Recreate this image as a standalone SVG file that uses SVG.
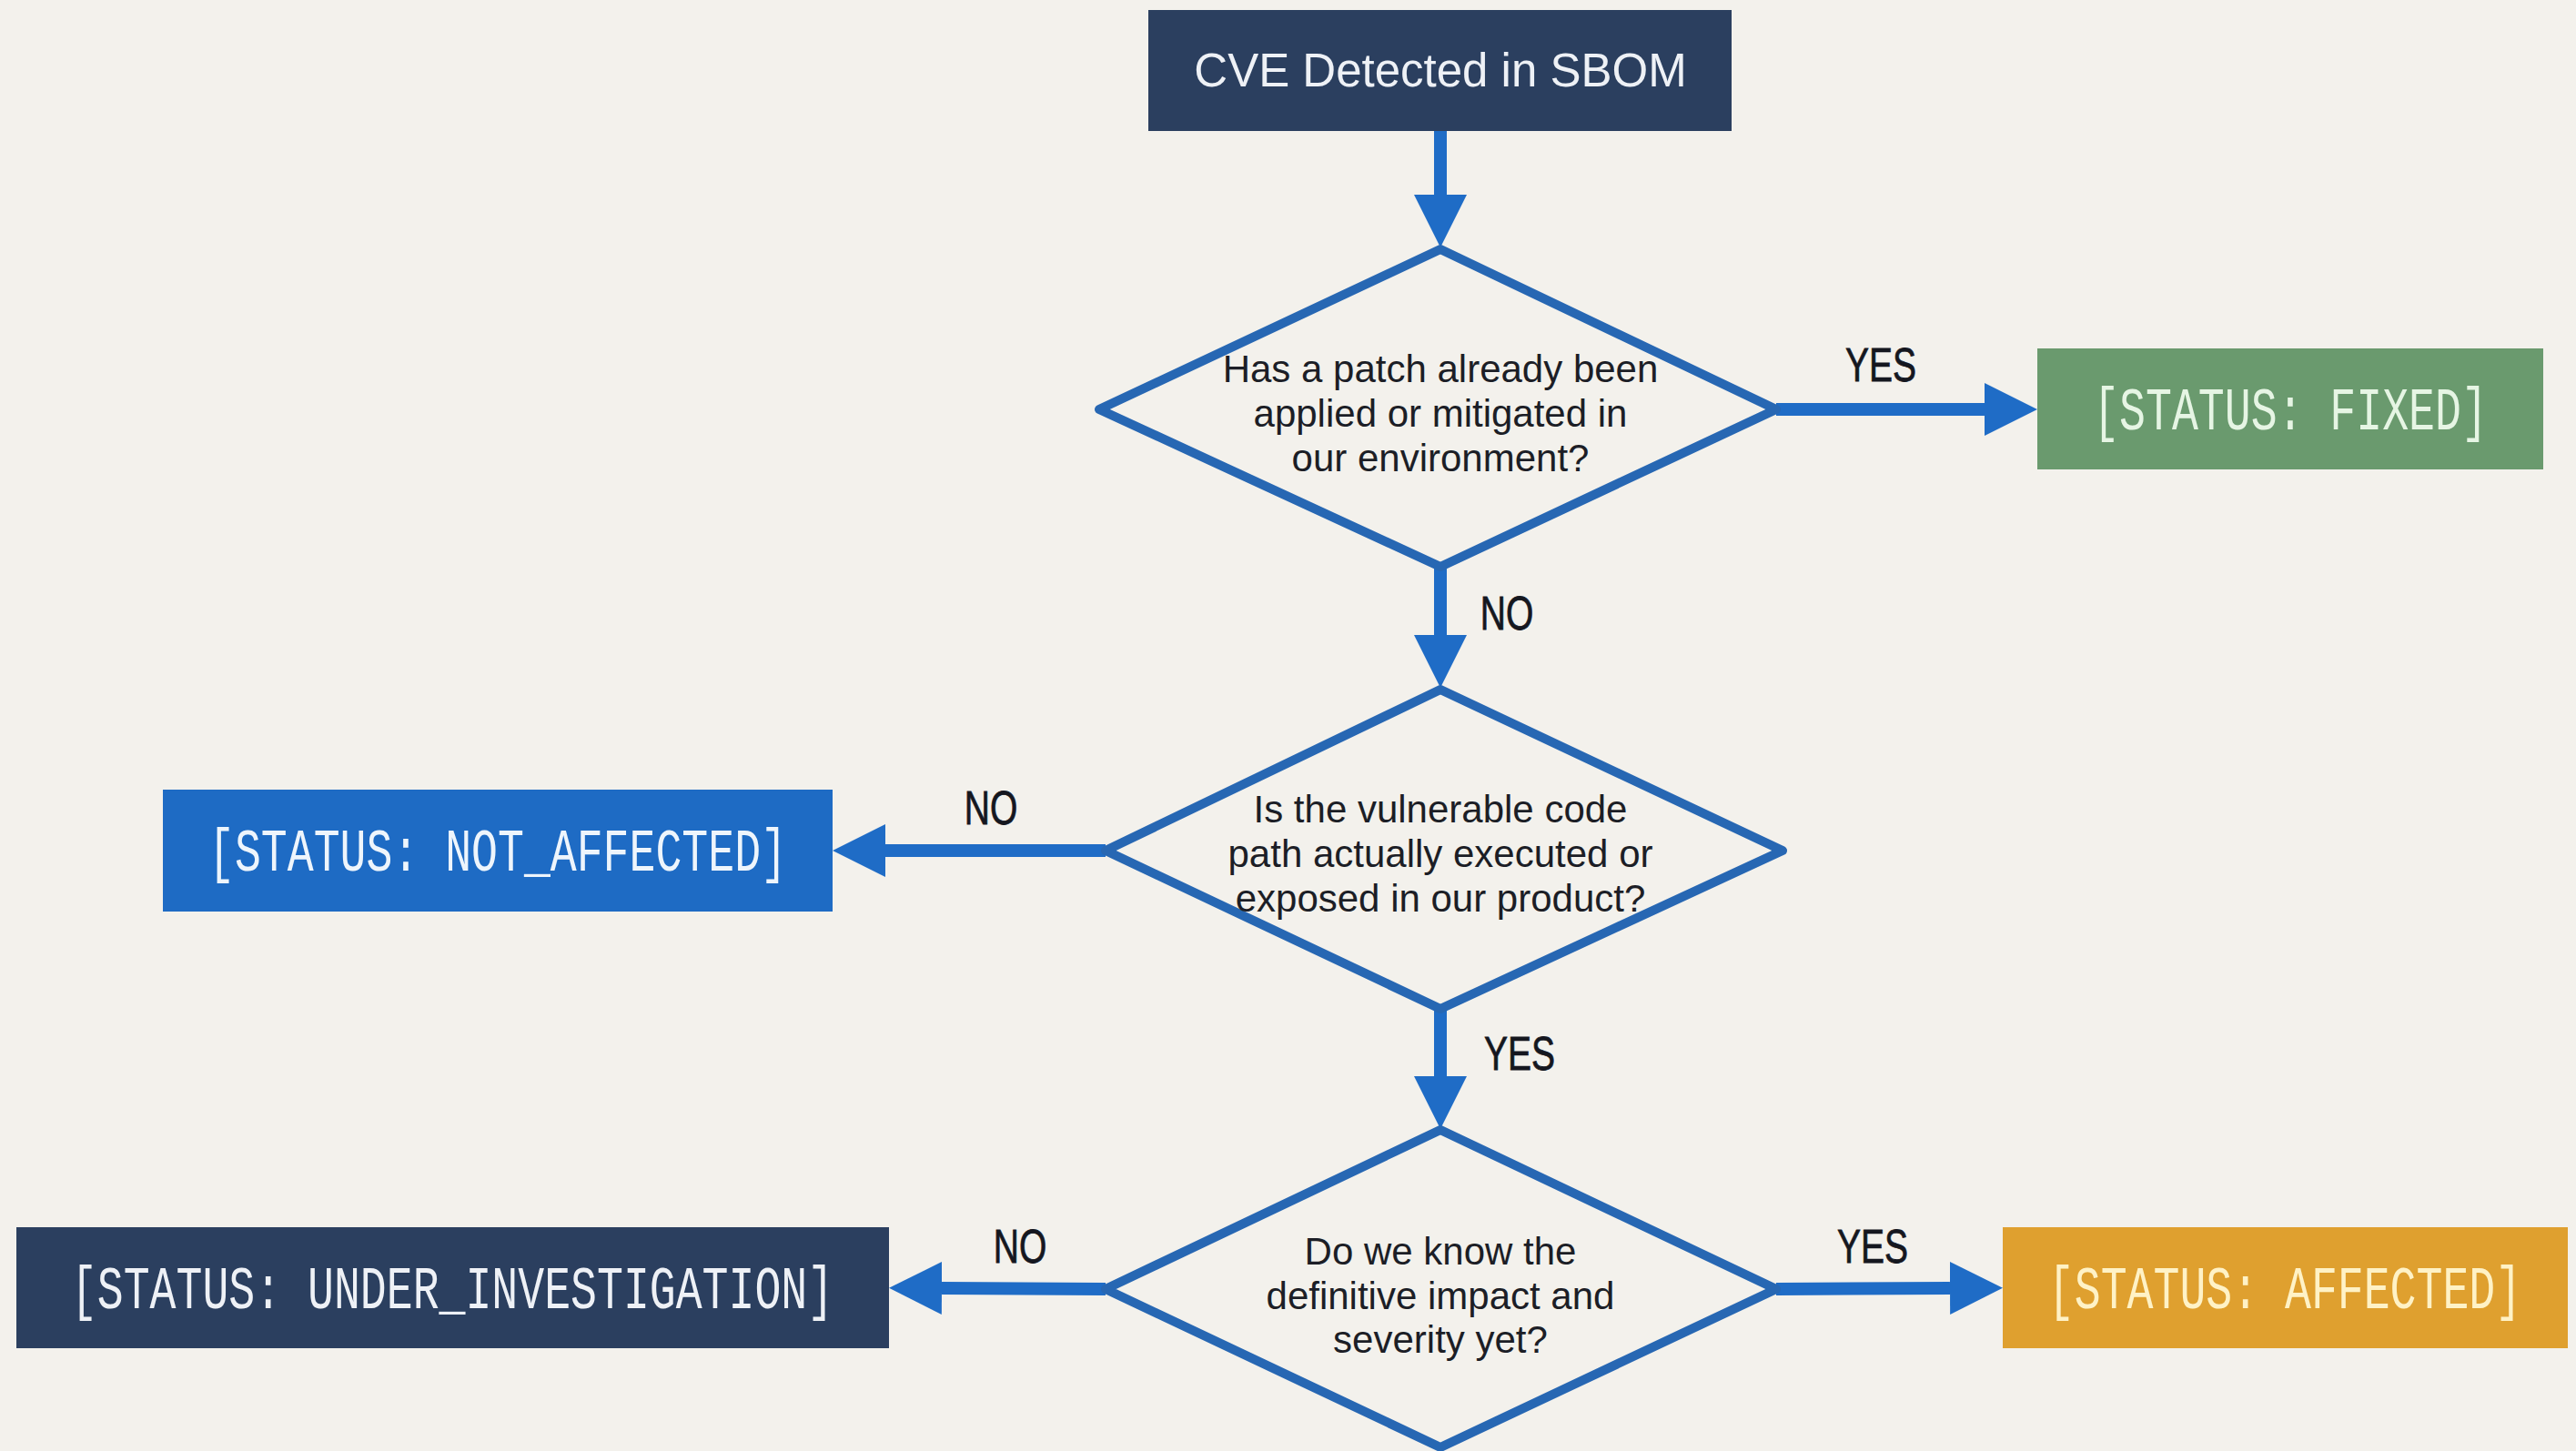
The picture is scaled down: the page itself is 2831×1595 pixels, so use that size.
<svg xmlns="http://www.w3.org/2000/svg" width="2831" height="1595" viewBox="0 0 2831 1595">
<style>
.q{font-family:"Liberation Sans",Arial,sans-serif;font-size:42px;fill:#1c1e26;text-anchor:middle}
.st{font-family:"Liberation Mono","DejaVu Sans Mono",monospace;font-size:66px;text-anchor:middle}
.lb{font-family:"Liberation Sans",Arial,sans-serif;font-size:52px;fill:#15171f;stroke:#15171f;stroke-width:0.8;text-anchor:middle}
.dm{fill:#f3f1ec;stroke:#2767b3;stroke-width:10;stroke-linejoin:round}
.cn{stroke:#1f6cc6;stroke-width:14;fill:none}
</style>
<defs>
<marker id="ah" markerUnits="userSpaceOnUse" markerWidth="58" markerHeight="58" refX="0" refY="29" orient="auto" viewBox="0 0 58 58">
<path d="M0,0 L58,29 L0,58 Z" fill="#1f6cc6"/>
</marker>
</defs>
<rect width="2831" height="1595" fill="#f3f1ec"/>
<g id="connectors">
<line class="cn" x1="1583" y1="144" x2="1583" y2="214" marker-end="url(#ah)"/>
<line class="cn" x1="1952" y1="450" x2="2181" y2="450" marker-end="url(#ah)"/>
<line class="cn" x1="1583" y1="623" x2="1583" y2="698" marker-end="url(#ah)"/>
<line class="cn" x1="1215" y1="935" x2="973" y2="935" marker-end="url(#ah)"/>
<line class="cn" x1="1583" y1="1109" x2="1583" y2="1183" marker-end="url(#ah)"/>
<line class="cn" x1="1215" y1="1417" x2="1035" y2="1416" marker-end="url(#ah)"/>
<line class="cn" x1="1952" y1="1417" x2="2143" y2="1416" marker-end="url(#ah)"/>
<text class="lb" transform="translate(2067,419) scale(0.75,1)">YES</text>
<text class="lb" transform="translate(1656,692) scale(0.75,1)">NO</text>
<text class="lb" transform="translate(1089,906) scale(0.75,1)">NO</text>
<text class="lb" transform="translate(1670,1176) scale(0.75,1)">YES</text>
<text class="lb" transform="translate(1121,1388) scale(0.75,1)">NO</text>
<text class="lb" transform="translate(2058,1388) scale(0.75,1)">YES</text>
</g>
<g id="start">
<rect x="1262" y="11" width="641" height="133" fill="#2b3f5f"/>
<text x="1583" y="95" font-family="Liberation Sans, Arial, sans-serif" font-size="51" fill="#eef1f6" text-anchor="middle">CVE Detected in SBOM</text>
</g>
<g id="q1">
<polygon class="dm" points="1583,274 1952,450 1583,623 1208,450"/>
<text class="q" x="1583" y="420">Has a patch already been</text>
<text class="q" x="1583" y="469">applied or mitigated in</text>
<text class="q" x="1583" y="518">our environment?</text>
</g>
<g id="fixed">
<rect x="2239" y="383" width="556" height="133" fill="#6a9a6e"/>
<text class="st" fill="#e6f5e4" transform="translate(2517,472) scale(0.73,1)">[STATUS: FIXED]</text>
</g>
<g id="q2">
<polygon class="dm" points="1583,758 1959,935 1583,1109 1215,935"/>
<text class="q" x="1583" y="904">Is the vulnerable code</text>
<text class="q" x="1583" y="953">path actually executed or</text>
<text class="q" x="1583" y="1002">exposed in our product?</text>
</g>
<g id="not_affected">
<rect x="179" y="868" width="736" height="134" fill="#1e6bc4"/>
<text class="st" fill="#eef5fc" transform="translate(547,957) scale(0.73,1)">[STATUS: NOT_AFFECTED]</text>
</g>
<g id="q3">
<polygon class="dm" points="1583,1242 1952,1417 1583,1591 1215,1417"/>
<text class="q" x="1583" y="1390">Do we know the</text>
<text class="q" x="1583" y="1439">definitive impact and</text>
<text class="q" x="1583" y="1487">severity yet?</text>
</g>
<g id="under_investigation">
<rect x="18" y="1349" width="959" height="133" fill="#2b3f5f"/>
<text class="st" fill="#eef1f6" transform="translate(497,1438) scale(0.73,1)">[STATUS: UNDER_INVESTIGATION]</text>
</g>
<g id="affected">
<rect x="2201" y="1349" width="621" height="133" fill="#dfa02f"/>
<text class="st" fill="#fff2c6" transform="translate(2511,1438) scale(0.73,1)">[STATUS: AFFECTED]</text>
</g>
</svg>
